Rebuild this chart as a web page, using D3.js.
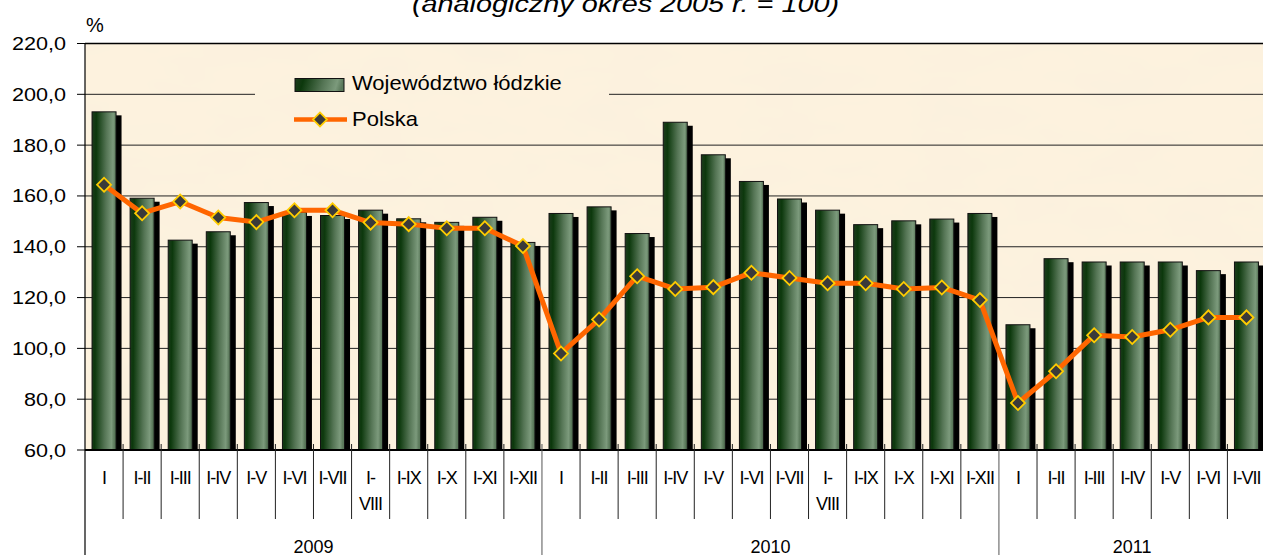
<!DOCTYPE html>
<html>
<head>
<meta charset="utf-8">
<script src="https://cdn.jsdelivr.net/npm/d3@7"></script>
<style>
  body { margin: 0; background: #fff; }
  svg { display: block; font-family: Arial, "Liberation Sans", sans-serif; }
</style>
</head>
<body>
<svg id="chart" width="1263" height="555"></svg>
<script>
// month ranges per year, years, and the two series
var months = ["I", "I-II", "I-III", "I-IV", "I-V", "I-VI", "I-VII", "I-VIII", "I-IX", "I-X", "I-XI", "I-XII"];
var years = ["2009", "2010", "2011"];
var monthsPerYear = [12, 12, 7];

var lodzkie = [
  193.1, 159.1, 142.6, 145.9, 157.4, 153.5, 152.3, 154.4, 151.0, 149.6, 151.6, 141.7,
  153.1, 155.7, 145.2, 189.0, 176.2, 165.7, 158.8, 154.4, 148.7, 150.2, 150.9, 153.1,
  109.3, 135.3, 134.0, 134.0, 134.0, 130.6, 134.0
];
var polska = [
  164.4, 153.2, 157.8, 151.5, 149.7, 154.4, 154.4, 149.5, 148.9, 147.3, 147.3, 140.3,
  98.0, 111.4, 128.4, 123.4, 124.1, 129.8, 127.7, 125.6, 125.6, 123.4, 124.0, 119.0,
  78.5, 91.0, 105.2, 104.5, 107.3, 112.2, 112.2
];
var yTicks = [60, 80, 100, 120, 140, 160, 180, 200, 220];

var seriesNames = ["Województwo łódzkie", "Polska"];
var title = "(analogiczny okres 2005 r. = 100)";

// build the flat category list
var cats = [];
years.forEach(function(yr, yi) {
  for (var m = 0; m < monthsPerYear[yi]; m++) {
    cats.push({ id: cats.length, year: yr, month: months[m], yi: yi });
  }
});

var svg = d3.select("#chart");
var plotL = 85, plotR = 1265.5, plotT = 43.5, plotB = 450;
var legL = 255, legR = 609; // legend area hides the 200 gridline

var x = d3.scaleBand().domain(cats.map(d => d.id)).range([plotL, plotR]).padding(0);
var y = d3.scaleLinear().domain([60, 220]).range([plotB, plotT]);

var defs = svg.append("defs");

// bar gradient
var grad = defs.append("linearGradient").attr("id", "barGrad")
  .attr("x1", 0).attr("y1", 0).attr("x2", 1).attr("y2", 0.08);
[[0, "#1d3a1d"], [0.18, "#0c380c"], [0.6, "#557555"], [0.88, "#7c9a7c"], [1, "#5a785a"]]
  .forEach(s => grad.append("stop").attr("offset", s[0]).attr("stop-color", s[1]));

// subtle paper texture for the plot area
var tex = defs.append("filter").attr("id", "paper")
  .attr("x", 0).attr("y", 0).attr("width", "100%").attr("height", "100%");
tex.append("feTurbulence").attr("type", "fractalNoise")
  .attr("baseFrequency", "0.012 0.03").attr("numOctaves", 3).attr("seed", 4).attr("result", "n");
tex.append("feColorMatrix").attr("type", "matrix")
  .attr("values", "0 0 0 0 0.93  0 0 0 0 0.86  0 0 0 0 0.72  0 0 0 0.6 -0.2");

svg.append("rect")
  .attr("x", plotL).attr("y", plotT).attr("width", plotR - plotL).attr("height", plotB - plotT)
  .attr("fill", "#fdf2de");
svg.append("rect")
  .attr("x", plotL).attr("y", plotT).attr("width", plotR - plotL).attr("height", plotB - plotT)
  .attr("filter", "url(#paper)");

// gridlines (the 200 line is split around the legend)
var gridSegs = [];
yTicks.filter(t => t > 60).forEach(function(t) {
  if (t == 200) {
    gridSegs.push({ v: t, x1: plotL, x2: legL });
    gridSegs.push({ v: t, x1: legR, x2: plotR });
  } else {
    gridSegs.push({ v: t, x1: plotL, x2: plotR });
  }
});
svg.append("g").selectAll("line")
  .data(gridSegs)
  .enter().append("line")
  .attr("x1", d => d.x1).attr("x2", d => d.x2)
  .attr("y1", d => y(d.v)).attr("y2", d => y(d.v))
  .attr("stroke", d => d.v == 220 ? "#000" : "#222")
  .attr("stroke-width", d => d.v == 220 ? 1.5 : 1);

// bars: shadow then bar
var bw = 24;
var bars = svg.append("g");
bars.selectAll(".shadow")
  .data(cats).enter().append("rect")
  .attr("class", "shadow")
  .attr("x", d => x(d.id) + (x.bandwidth() - bw) / 2 + 5.5)
  .attr("y", d => y(lodzkie[d.id]) + 3.5)
  .attr("width", bw)
  .attr("height", d => plotB - y(lodzkie[d.id]) - 3.5)
  .attr("fill", "#000");
bars.selectAll(".bar")
  .data(cats).enter().append("rect")
  .attr("class", "bar")
  .attr("x", d => x(d.id) + (x.bandwidth() - bw) / 2)
  .attr("y", d => y(lodzkie[d.id]))
  .attr("width", bw)
  .attr("height", d => plotB - y(lodzkie[d.id]))
  .attr("fill", "url(#barGrad)")
  .attr("stroke", "#111").attr("stroke-width", 1);

// Polska line
var line = d3.line()
  .x(d => x(d.id) + x.bandwidth() / 2)
  .y(d => y(polska[d.id]));
svg.append("path").datum(cats)
  .attr("d", line)
  .attr("fill", "none")
  .attr("stroke", "#ff6600")
  .attr("stroke-width", 5)
  .attr("stroke-linejoin", "round");

var marker = d3.symbol().type(d3.symbolSquare).size(98);
svg.append("g").selectAll("path")
  .data(cats).enter().append("path")
  .attr("d", marker)
  .attr("transform", d => "translate(" + (x(d.id) + x.bandwidth() / 2) + "," + y(polska[d.id]) + ") rotate(45)")
  .attr("fill", "#3a3a3a")
  .attr("stroke", "#ffcc00")
  .attr("stroke-width", 1.8);

// y axis
svg.append("line").attr("x1", plotL).attr("x2", plotL).attr("y1", plotT).attr("y2", 555)
  .attr("stroke", "#000").attr("stroke-width", 1.2);
var yAxis = svg.append("g");
yAxis.selectAll("line")
  .data(yTicks).enter().append("line")
  .attr("x1", plotL - 8).attr("x2", plotL)
  .attr("y1", d => y(d)).attr("y2", d => y(d))
  .attr("stroke", "#000");
yAxis.selectAll("text")
  .data(yTicks).enter().append("text")
  .attr("transform", d => "translate(66," + (y(d) + 6.5) + ") scale(1.2,1)")
  .attr("text-anchor", "end")
  .attr("font-size", 18)
  .text(d => d3.format(".1f")(d).replace(".", ","));

// x axis
svg.append("line").attr("x1", plotL).attr("x2", 1263).attr("y1", plotB).attr("y2", plotB)
  .attr("stroke", "#000").attr("stroke-width", 2);
var xAxis = svg.append("g");
xAxis.selectAll("line")
  .data(cats.filter(d => d.id > 0))
  .enter().append("line")
  .attr("x1", d => x(d.id)).attr("x2", d => x(d.id))
  .attr("y1", plotB - 6)
  .attr("y2", d => d.month == "I" ? 555 : 519)
  .attr("stroke", d => d.month == "I" ? "#555" : "#222")
  .attr("stroke-width", 1);
var labels = xAxis.selectAll("text")
  .data(cats).enter().append("text")
  .attr("x", d => x(d.id) + x.bandwidth() / 2)
  .attr("y", 484)
  .attr("text-anchor", "middle")
  .attr("font-size", 18)
  .attr("letter-spacing", "-1px");
labels.each(function(d) {
  var t = d3.select(this);
  if (d.month == "I-VIII") {
    t.append("tspan").attr("x", x(d.id) + x.bandwidth() / 2).text("I-");
    t.append("tspan").attr("x", x(d.id) + x.bandwidth() / 2).attr("dy", 26).text("VIII");
  } else {
    t.text(d.month);
  }
});

// year labels
years.forEach(function(yr, yi) {
  var ids = cats.filter(d => d.yi == yi).map(d => d.id);
  var x0 = x(ids[0]), x1 = x(ids[ids.length - 1]) + x.bandwidth();
  svg.append("text")
    .attr("x", (x0 + x1) / 2)
    .attr("y", 552.5)
    .attr("text-anchor", "middle")
    .attr("font-size", 18)
    .text(yr);
});

// legend entries
var lg = svg.append("g");
lg.append("rect").attr("x", 295).attr("y", 78.5).attr("width", 49).attr("height", 13)
  .attr("fill", "url(#barGrad)").attr("stroke", "#111");
lg.append("text").attr("transform", "translate(352,89.5) scale(1.1,1)")
  .attr("font-size", 20).text(seriesNames[0]);
lg.append("line").attr("x1", 294).attr("x2", 347).attr("y1", 119.5).attr("y2", 119.5)
  .attr("stroke", "#ff6600").attr("stroke-width", 4.5);
lg.append("path").attr("d", marker)
  .attr("transform", "translate(320,119.5) rotate(45)")
  .attr("fill", "#3a3a3a").attr("stroke", "#ffcc00").attr("stroke-width", 1.8);
lg.append("text").attr("transform", "translate(352,125.5) scale(1.1,1)")
  .attr("font-size", 20).text(seriesNames[1]);

// unit and title
svg.append("text").attr("x", 86).attr("y", 31.5).attr("font-size", 20).text("%");
svg.append("text").attr("transform", "translate(412,11.5) scale(1.2,1)")
  .attr("font-size", 24).attr("font-style", "italic").text(title);
</script>
</body>
</html>
